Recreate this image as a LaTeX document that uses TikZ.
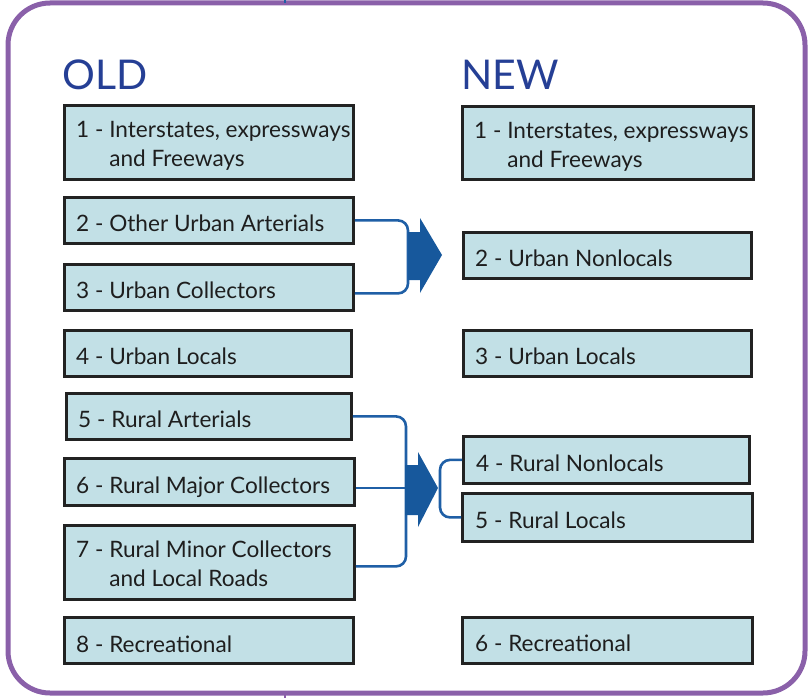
\documentclass[tikz,border=0pt]{standalone}
\usepackage{fontspec}
\setmainfont{Lato}
\definecolor{frame}{HTML}{8A60A9}
\definecolor{title}{HTML}{253F95}
\definecolor{boxfill}{HTML}{C2E0E6}
\definecolor{boxline}{HTML}{222222}
\definecolor{conncol}{HTML}{1F5FA6}
\definecolor{arrcol}{HTML}{17589C}
\definecolor{txtcol}{HTML}{1E1E1E}
\begin{document}
\begin{tikzpicture}[x=1pt,y=-1pt,
  cbox/.style={draw=boxline, line width=2.8pt, fill=boxfill, anchor=north west, inner sep=0pt},
  txt/.style={anchor=base west, inner sep=0pt, text=txtcol, font=\fontsize{22.6}{29}\selectfont},
  ttl/.style={anchor=base west, inner sep=0pt, text=title, font=\fontsize{41}{45}\selectfont},
  conn/.style={draw=conncol, line width=2.6pt, rounded corners=10pt}]
\useasboundingbox (0,0) rectangle (809,698);
\draw[frame, line width=5pt, rounded corners=42pt] (8,3) rectangle (805,693);
\draw[conncol, line width=2pt] (285,0) -- (285,3);
\draw[frame, line width=2pt] (285,693) -- (285,698);
\node[ttl] (told) at (62,90) {OLD};
\node[ttl] (tnew) at (461,90) {NEW};
% old boxes
\node[cbox, minimum width=289pt, minimum height=74pt] (o1) at (63,104) {};
\node[cbox, minimum width=289pt, minimum height=46pt] (o2) at (63,196) {};
\node[cbox, minimum width=289pt, minimum height=46pt] (o3) at (63,263) {};
\node[cbox, minimum width=287pt, minimum height=46pt] (o4) at (63,329) {};
\node[cbox, minimum width=285pt, minimum height=46pt] (o5) at (65,392) {};
\node[cbox, minimum width=290pt, minimum height=47pt] (o6) at (63,457) {};
\node[cbox, minimum width=290pt, minimum height=74pt] (o7) at (63,524) {};
\node[cbox, minimum width=289pt, minimum height=46pt] (o8) at (63,616) {};
% old texts
\node[txt] (o1a) at (76,137.7) {1 - Interstates, expressways};
\node[txt] (o1b) at (76,166.7) {\phantom{1 - }and Freeways};
\node[txt] (o2a) at (76,231.7) {2 - Other Urban Arterials};
\node[txt] (o3a) at (76,298.7) {3 - Urban Collectors};
\node[txt] (o4a) at (76,364.7) {4 - Urban Locals};
\node[txt] (o5a) at (78,427.7) {5 - Rural Arterials};
\node[txt] (o6a) at (76,493) {6 - Rural Major Collectors};
\node[txt] (o7a) at (76,557.7) {7 - Rural Minor Collectors};
\node[txt] (o7b) at (76,586.7) {\phantom{7 - }and Local Roads};
\node[txt] (o8a) at (76,652) {8 - Recreational};
% new boxes
\node[cbox, minimum width=291pt, minimum height=73pt] (n1) at (461,105) {};
\node[cbox, minimum width=288pt, minimum height=46pt] (n2) at (462,231) {};
\node[cbox, minimum width=288pt, minimum height=46pt] (n3) at (462,329) {};
\node[cbox, minimum width=286pt, minimum height=47pt] (n4) at (462,435) {};
\node[cbox, minimum width=290pt, minimum height=48pt] (n5) at (461,492) {};
\node[cbox, minimum width=290pt, minimum height=46pt] (n6) at (461,616) {};
% new texts
\node[txt] (n1a) at (474,138.7) {1 - Interstates, expressways};
\node[txt] (n1b) at (474,167.7) {\phantom{1 - }and Freeways};
\node[txt] (n2a) at (475,266.7) {2 - Urban Nonlocals};
\node[txt] (n3a) at (475,364.7) {3 - Urban Locals};
\node[txt] (n4a) at (476,471) {4 - Rural Nonlocals};
\node[txt] (n5a) at (475,528.7) {5 - Rural Locals};
\node[txt] (n6a) at (475,651.7) {6 - Recreational};
% upper merge
\coordinate (j1) at (408,255);
\draw[conn] (o2.east) -| (j1) |- ([yshift=-6pt]o3.east);
\fill[arrcol] (408,232) -- (420,232) -- (420,218) -- (442,255) -- (420,293) -- (420,280) -- (408,280) -- cycle;
% lower merge
\coordinate (j2) at (406,488);
\draw[conn] (o5.east) -| (j2) |- ([yshift=-4pt]o7.east);
\draw[conn] (o6.east |- j2) -- (j2);
\fill[arrcol] (405,465) -- (418,465) -- (418,452) -- (438,488) -- (418,527) -- (418,515) -- (405,515) -- cycle;
\coordinate (t2) at (440,488);
\draw[conn] (n4.west) -| (t2) |- (n5.west);
\end{tikzpicture}
\end{document}
